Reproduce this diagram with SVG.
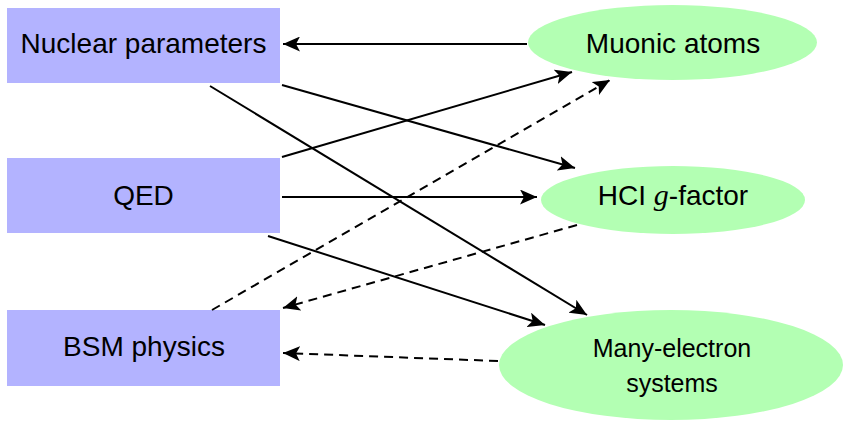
<svg xmlns="http://www.w3.org/2000/svg" width="844" height="423" viewBox="0 0 844 423">
<style>
.box{fill:#b3b3ff}
.ell{fill:#b3ffb3}
.t{font-family:"Liberation Sans",Arial,sans-serif;fill:#000;text-anchor:middle}
.big{font-size:28px}
.small{font-size:25px}
.c{stroke:#000;stroke-width:2;fill:none}
.d{stroke-dasharray:9,6}
.m{font-family:"Liberation Serif","Times New Roman",serif;font-style:italic;font-size:30px}
</style>
<defs>
<marker id="ah" markerUnits="userSpaceOnUse" markerWidth="19" markerHeight="15" refX="17" refY="7.5" orient="auto">
<path d="M0,0 L17,7.5 L0,15 L4,7.5 Z" fill="#000"/>
</marker>
</defs>
<rect width="844" height="423" fill="#fff"/>
<g id="nuclear"><rect class="box" x="7" y="8" width="273" height="75"/><text class="t big" x="143.5" y="53">Nuclear parameters</text></g>
<g id="qed"><rect class="box" x="7" y="158" width="273" height="75"/><text class="t big" x="143.5" y="205">QED</text></g>
<g id="bsm"><rect class="box" x="7" y="310" width="273" height="76"/><text class="t big" x="144" y="356">BSM physics</text></g>
<g id="muonic"><ellipse class="ell" cx="672.5" cy="42.5" rx="144.5" ry="37.5"/><text class="t big" x="673" y="53">Muonic atoms</text></g>
<g id="hci"><ellipse class="ell" cx="673" cy="200" rx="132" ry="34"/><text class="t big" x="673" y="205">HCI <tspan class="m">g</tspan>-factor</text></g>
<g id="many"><ellipse class="ell" cx="671" cy="365" rx="172" ry="55"/><text class="t small" x="672" y="357">Many-electron</text><text class="t small" x="672" y="392">systems</text></g>
<g id="connectors">
<line class="c" x1="527" y1="44" x2="283" y2="44" marker-end="url(#ah)"/>
<line class="c" x1="282" y1="85" x2="575" y2="168" marker-end="url(#ah)"/>
<line class="c" x1="210" y1="86" x2="587" y2="315" marker-end="url(#ah)"/>
<line class="c" x1="282" y1="157" x2="572" y2="72" marker-end="url(#ah)"/>
<line class="c" x1="282" y1="197" x2="537" y2="197" marker-end="url(#ah)"/>
<line class="c" x1="268" y1="236" x2="545" y2="325" marker-end="url(#ah)"/>
<line class="c d" x1="212" y1="310" x2="610" y2="80" marker-end="url(#ah)"/>
<line class="c d" x1="577" y1="225" x2="283" y2="308" marker-end="url(#ah)"/>
<line class="c d" x1="498" y1="361" x2="283" y2="353" marker-end="url(#ah)"/>
</g>
</svg>
